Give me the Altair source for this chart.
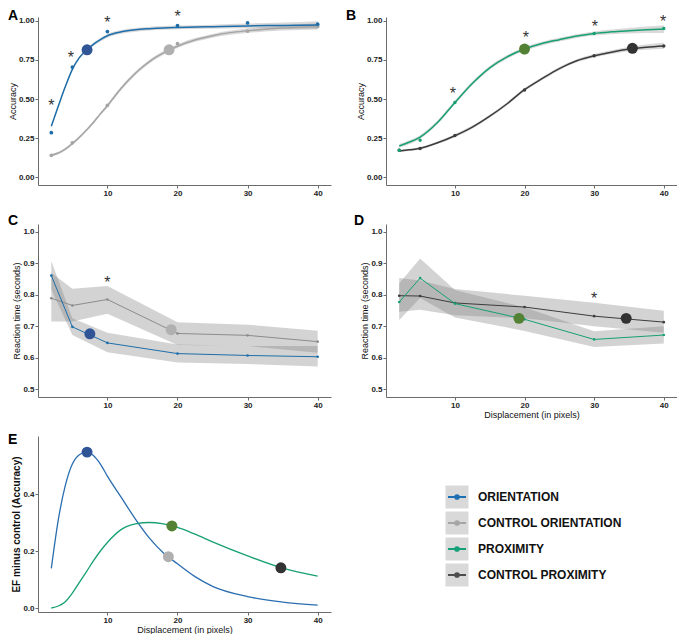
import altair as alt
import pandas as pd

# ---------------- data ----------------
X_PTS = [2, 5, 10, 20, 30, 40]

# Panel A (orientation vs control, accuracy)
a_orient_pts = [0.285, 0.705, 0.932, 0.970, 0.987, 0.979]
a_ctrl_pts = [0.140, 0.220, 0.460, 0.855, 0.935, 0.965]
a_orient_fit_x = [2, 3, 4, 5, 6, 7, 8, 9, 10, 12, 14, 16, 18, 20, 25, 30, 35, 40]
a_orient_fit = [0.326, 0.455, 0.580, 0.690, 0.765, 0.812, 0.850, 0.880, 0.905, 0.930, 0.943, 0.950, 0.955, 0.958, 0.963, 0.968, 0.971, 0.974]
a_orient_band = [0.008, 0.008, 0.008, 0.008, 0.008, 0.009, 0.010, 0.011, 0.012, 0.012, 0.012, 0.012, 0.012, 0.012, 0.013, 0.015, 0.019, 0.024]
a_ctrl_fit_x = [2, 3, 4, 5, 6, 7, 8, 9, 10, 11, 12, 13, 14, 15, 16, 17, 18, 19, 20, 22.5, 25, 27.5, 30, 32.5, 35, 37.5, 40]
a_ctrl_fit = [0.140, 0.155, 0.180, 0.215, 0.255, 0.300, 0.350, 0.405, 0.457, 0.515, 0.570, 0.620, 0.665, 0.705, 0.740, 0.770, 0.795, 0.818, 0.838, 0.878, 0.905, 0.925, 0.937, 0.947, 0.955, 0.960, 0.965]
a_ctrl_band = [0.008, 0.008, 0.008, 0.008, 0.008, 0.008, 0.009, 0.010, 0.011, 0.012, 0.012, 0.012, 0.012, 0.012, 0.012, 0.012, 0.012, 0.012, 0.012, 0.012, 0.012, 0.013, 0.014, 0.015, 0.016, 0.018, 0.020]
a_big_x = [7.1, 18.8]
a_big_y = [0.815, 0.815]
a_star_x = [2, 4.8, 10, 20]
a_star_y = [0.48, 0.79, 1.015, 1.05]

# Panel B (proximity vs control, accuracy)
b_prox_pts = [0.173, 0.236, 0.478, 0.819, 0.920, 0.952]
b_ctrl_pts = [0.173, 0.183, 0.267, 0.558, 0.777, 0.840]
b_fit_x = [2, 3.5, 5, 7.5, 10, 12.5, 15, 17.5, 20, 22.5, 25, 27.5, 30, 32.5, 35, 37.5, 40]
b_prox_fit = [0.200, 0.225, 0.257, 0.350, 0.478, 0.600, 0.700, 0.770, 0.820, 0.855, 0.880, 0.903, 0.920, 0.930, 0.937, 0.943, 0.948]
b_prox_band = [0.012, 0.012, 0.012, 0.012, 0.012, 0.012, 0.012, 0.012, 0.012, 0.012, 0.012, 0.012, 0.013, 0.015, 0.018, 0.021, 0.025]
b_ctrl_fit = [0.168, 0.175, 0.185, 0.220, 0.265, 0.320, 0.390, 0.470, 0.560, 0.630, 0.695, 0.745, 0.777, 0.800, 0.820, 0.832, 0.840]
b_ctrl_band = [0.008, 0.008, 0.008, 0.008, 0.009, 0.010, 0.010, 0.010, 0.010, 0.010, 0.010, 0.010, 0.011, 0.012, 0.014, 0.017, 0.020]
b_big_x = [20.0, 35.5]
b_big_y = [0.820, 0.825]
b_star_x = [9.7, 20.2, 30.1, 39.9]
b_star_y = [0.558, 0.914, 0.987, 1.021]

# Panel C (orientation vs control, reaction time)
c_orient = [0.861, 0.698, 0.647, 0.613, 0.607, 0.603]
c_orient_lo = [0.816, 0.672, 0.617, 0.585, 0.580, 0.572]
c_orient_hi = [0.907, 0.725, 0.679, 0.642, 0.637, 0.637]
c_ctrl = [0.789, 0.766, 0.785, 0.677, 0.671, 0.651]
c_ctrl_lo = [0.715, 0.715, 0.740, 0.640, 0.637, 0.616]
c_ctrl_hi = [0.870, 0.819, 0.828, 0.713, 0.705, 0.686]
c_big_x = [7.5, 19.1]
c_big_y = [0.676, 0.689]
c_star_x = [10]
c_star_y = [0.849]

# Panel D (proximity vs control, reaction time)
d_prox = [0.777, 0.853, 0.772, 0.722, 0.658, 0.672]
d_prox_lo = [0.720, 0.790, 0.728, 0.685, 0.634, 0.645]
d_prox_hi = [0.836, 0.915, 0.815, 0.760, 0.684, 0.700]
d_ctrl = [0.797, 0.796, 0.774, 0.761, 0.732, 0.713]
d_ctrl_lo = [0.746, 0.752, 0.735, 0.725, 0.700, 0.679]
d_ctrl_hi = [0.853, 0.845, 0.818, 0.797, 0.775, 0.749]
d_big_x = [19.2, 34.6]
d_big_y = [0.725, 0.725]
d_star_x = [30]
d_star_y = [0.798]

# Panel E (effect minus control)
e_x = [2, 3, 4, 5, 6, 7, 8, 9, 10, 12, 14, 16, 18, 20, 22.5, 25, 30, 35, 40]
e_orient = [0.139, 0.310, 0.430, 0.505, 0.538, 0.547, 0.535, 0.505, 0.463, 0.387, 0.312, 0.245, 0.193, 0.155, 0.110, 0.076, 0.040, 0.021, 0.010]
e_prox = [0.000, 0.007, 0.022, 0.052, 0.090, 0.127, 0.165, 0.200, 0.230, 0.276, 0.295, 0.300, 0.295, 0.283, 0.259, 0.232, 0.183, 0.140, 0.112]
e_big_x = [7.1, 18.7, 19.2, 34.75]
e_big_y = [0.547, 0.180, 0.288, 0.141]
e_big_col = ["#2f5597", "#b0b0b0", "#548235", "#333333"]

legend_labels = ["ORIENTATION", "CONTROL ORIENTATION", "PROXIMITY", "CONTROL PROXIMITY"]
legend_colors = ["#1f6fb4", "#a6a6a6", "#14a078", "#4d4d4d"]

# ---------------- style ----------------
BLUE = "#1e6eaa"
BLUE_BIG = "#2f5597"
GRAY = "#a5a5a5"
GRAY_BIG = "#b0b0b0"
GREEN = "#17a072"
GREEN_BIG = "#548235"
DARK = "#3c3c3c"
DARK_BIG = "#333333"
BAND = "#808080"
FONT = "Liberation Sans"

W1, W2 = 293, 291
H1, H2, H3 = 168, 173, 176


def X(title=None):
    return alt.X("x:Q", scale=alt.Scale(domain=[0.1, 41.9], nice=False, zero=False),
                 axis=alt.Axis(values=[10, 20, 30, 40], title=title))


def make_y(domain, values, fmt, title, bold=False):
    def f(field):
        if bold:
            ax = alt.Axis(values=values, format=fmt, title=title,
                          titleFontWeight="bold", titleFontSize=10)
        else:
            ax = alt.Axis(values=values, format=fmt, title=title)
        return alt.Y(field, scale=alt.Scale(domain=domain, nice=False, zero=False), axis=ax)
    return f


def band(x, lo, hi, Y, xt, interp, op=0.35):
    df = pd.DataFrame({"x": x, "lo": lo, "hi": hi})
    return alt.Chart(df).mark_area(color=BAND, opacity=op, interpolate=interp).encode(
        x=X(xt), y=Y("lo:Q"), y2="hi:Q")


def line(x, y, color, width, Y, xt, interp):
    df = pd.DataFrame({"x": x, "y": y})
    return alt.Chart(df).mark_line(color=color, strokeWidth=width, interpolate=interp).encode(
        x=X(xt), y=Y("y:Q"))


def pts(x, y, color, size, Y, xt):
    df = pd.DataFrame({"x": x, "y": y})
    return alt.Chart(df).mark_circle(color=color, size=size, opacity=1).encode(
        x=X(xt), y=Y("y:Q"))


def stars(x, y, Y, xt):
    df = pd.DataFrame({"x": x, "y": y})
    return alt.Chart(df).mark_text(text="*", fontSize=16, font=FONT, color="#333",
                                   baseline="alphabetic", dy=9).encode(x=X(xt), y=Y("y:Q"))


def tag(name, dx, dy):
    df = pd.DataFrame({"t": [name]})
    return alt.Chart(df).mark_text(align="left", baseline="alphabetic", fontSize=14,
                                   fontWeight="bold", font=FONT, color="#000").encode(
        text="t:N", x=alt.value(dx), y=alt.value(dy))


def lo_hi(fit, bw):
    return [f - b for f, b in zip(fit, bw)], [f + b for f, b in zip(fit, bw)]


# ---------------- panel A ----------------
YA = make_y([-0.05, 1.025], [0, 0.25, 0.5, 0.75, 1.0], ".2f", "Accuracy")
ao_lo, ao_hi = lo_hi(a_orient_fit, a_orient_band)
ac_lo, ac_hi = lo_hi(a_ctrl_fit, a_ctrl_band)
A = alt.layer(
    band(a_ctrl_fit_x, ac_lo, ac_hi, YA, None, "monotone", 0.3),
    band(a_orient_fit_x, ao_lo, ao_hi, YA, None, "monotone", 0.3),
    line(a_ctrl_fit_x, a_ctrl_fit, GRAY, 1.5, YA, None, "monotone"),
    line(a_orient_fit_x, a_orient_fit, BLUE, 1.5, YA, None, "monotone"),
    pts(X_PTS, a_ctrl_pts, GRAY, 14, YA, None),
    pts(X_PTS, a_orient_pts, BLUE, 14, YA, None),
    pts(a_big_x[1:], a_big_y[1:], GRAY_BIG, 120, YA, None),
    pts(a_big_x[:1], a_big_y[:1], BLUE_BIG, 120, YA, None),
    stars(a_star_x, a_star_y, YA, None),
    tag("A", -30, 3),
).properties(width=W1, height=H1)

# ---------------- panel B ----------------
YB = make_y([-0.05, 1.025], [0, 0.25, 0.5, 0.75, 1.0], ".2f", "Accuracy")
bp_lo, bp_hi = lo_hi(b_prox_fit, b_prox_band)
bc_lo, bc_hi = lo_hi(b_ctrl_fit, b_ctrl_band)
B = alt.layer(
    band(b_fit_x, bc_lo, bc_hi, YB, None, "monotone", 0.3),
    band(b_fit_x, bp_lo, bp_hi, YB, None, "monotone", 0.3),
    line(b_fit_x, b_ctrl_fit, DARK, 1.5, YB, None, "monotone"),
    line(b_fit_x, b_prox_fit, GREEN, 1.5, YB, None, "monotone"),
    pts(X_PTS, b_ctrl_pts, DARK, 12, YB, None),
    pts(X_PTS, b_prox_pts, GREEN, 12, YB, None),
    pts(b_big_x[:1], b_big_y[:1], GREEN_BIG, 120, YB, None),
    pts(b_big_x[1:], b_big_y[1:], DARK_BIG, 120, YB, None),
    stars(b_star_x, b_star_y, YB, None),
    tag("B", -40, 3),
).properties(width=W2, height=H1)

# ---------------- panel C ----------------
YC = make_y([0.475, 1.025], [0.5, 0.6, 0.7, 0.8, 0.9, 1.0], ".1f", "Reaction time (seconds)")
C = alt.layer(
    band(X_PTS, c_ctrl_lo, c_ctrl_hi, YC, None, "linear"),
    band(X_PTS, c_orient_lo, c_orient_hi, YC, None, "linear"),
    line(X_PTS, c_ctrl, "#8c8c8c", 1, YC, None, "linear"),
    line(X_PTS, c_orient, BLUE, 1, YC, None, "linear"),
    pts(X_PTS, c_ctrl, "#8c8c8c", 7, YC, None),
    pts(X_PTS, c_orient, BLUE, 7, YC, None),
    pts(c_big_x[:1], c_big_y[:1], BLUE_BIG, 120, YC, None),
    pts(c_big_x[1:], c_big_y[1:], GRAY_BIG, 120, YC, None),
    stars(c_star_x, c_star_y, YC, None),
    tag("C", -30, 1),
).properties(width=W1, height=H2)

# ---------------- panel D ----------------
YD = make_y([0.475, 1.025], [0.5, 0.6, 0.7, 0.8, 0.9, 1.0], ".1f", "Reaction time (seconds)")
XT = "Displacement (in pixels)"
D = alt.layer(
    band(X_PTS, d_ctrl_lo, d_ctrl_hi, YD, XT, "linear"),
    band(X_PTS, d_prox_lo, d_prox_hi, YD, XT, "linear"),
    line(X_PTS, d_ctrl, DARK, 1, YD, XT, "linear"),
    line(X_PTS, d_prox, GREEN, 1, YD, XT, "linear"),
    pts(X_PTS, d_ctrl, DARK, 7, YD, XT),
    pts(X_PTS, d_prox, GREEN, 7, YD, XT),
    pts(d_big_x[:1], d_big_y[:1], GREEN_BIG, 120, YD, XT),
    pts(d_big_x[1:], d_big_y[1:], DARK_BIG, 120, YD, XT),
    stars(d_star_x, d_star_y, YD, XT),
    tag("D", -32, 1),
).properties(width=W2, height=H2)

# ---------------- panel E ----------------
YE = make_y([-0.014, 0.6035], [0.0, 0.2, 0.4], ".1f", "EF minus control (Accuracy)", bold=True)
e_big_df = pd.DataFrame({"x": e_big_x, "y": e_big_y, "c": e_big_col})
E = alt.layer(
    line(e_x, e_orient, "#2a6db0", 1.3, YE, XT, "monotone"),
    line(e_x, e_prox, GREEN, 1.3, YE, XT, "monotone"),
    alt.Chart(e_big_df).mark_circle(size=120, opacity=1).encode(
        x=X(XT), y=YE("y:Q"), color=alt.Color("c:N", scale=None)),
    tag("E", -30, 8),
).properties(width=W1, height=H3)

# ---------------- legend panel ----------------
leg_df = pd.DataFrame({"label": legend_labels})
leg_y = alt.Y("label:N", sort=legend_labels,
              scale=alt.Scale(type="point", range=[61, 139], padding=0), axis=None)
leg_c = alt.Color("label:N", scale=alt.Scale(domain=legend_labels, range=legend_colors), legend=None)
lbase = alt.Chart(leg_df).encode(y=leg_y)
L = alt.layer(
    lbase.mark_square(size=529, color="#d9d9d9", opacity=1).encode(x=alt.value(71)),
    lbase.mark_rule(strokeWidth=2).encode(x=alt.value(62), x2=alt.value(80), color=leg_c),
    lbase.mark_circle(size=32, opacity=1).encode(x=alt.value(71), color=leg_c),
    lbase.mark_text(align="left", baseline="middle", fontSize=12, fontWeight="bold",
                    font=FONT, color="#111").encode(x=alt.value(92), text="label:N"),
).properties(width=W2, height=H3)

chart = alt.concat(
    A, B, C, D, E, L, columns=2,
    spacing={"row": 39, "column": 55}, bounds="flush",
).properties(
    padding={"top": 1, "left": 0, "right": 0, "bottom": 0}, background="white"
).configure_view(stroke=None).configure_axis(
    domainColor="#6b6b6b", tickColor="#6b6b6b", tickSize=3, grid=False,
    labelFont=FONT, labelFontSize=8, labelFontWeight="bold", labelColor="#222",
    labelPadding=1, titleFont=FONT, titleFontSize=9, titleFontWeight="normal",
    titleColor="#111", titlePadding=1,
)

chart.save("out.html", embed_options={"renderer": "svg", "actions": False})
